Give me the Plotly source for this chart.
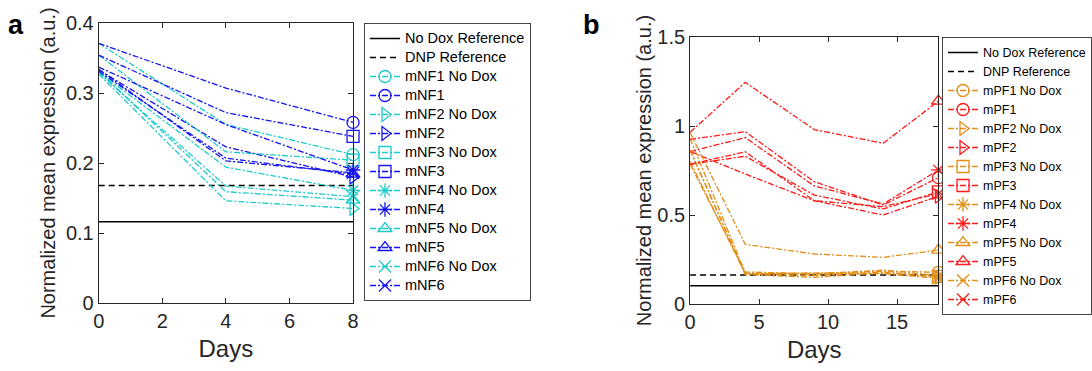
import plotly.graph_objects as go

# ---------------- Panel a data ----------------
days_a = [0, 4, 8]
mNF1_nd = [0.371, 0.255, 0.212]
mNF1 = [0.371, 0.307, 0.258]
mNF2_nd = [0.327, 0.146, 0.135]
mNF2 = [0.333, 0.223, 0.180]
mNF3_nd = [0.354, 0.216, 0.204]
mNF3 = [0.354, 0.272, 0.238]
mNF4_nd = [0.330, 0.194, 0.161]
mNF4 = [0.337, 0.255, 0.190]
mNF5_nd = [0.331, 0.159, 0.147]
mNF5 = [0.331, 0.207, 0.184]
mNF6_nd = [0.329, 0.167, 0.152]
mNF6 = [0.334, 0.203, 0.186]
nodox_ref_a = 0.116
dnp_ref_a = 0.168

# ---------------- Panel b data ----------------
days_b = [0, 4, 9, 14, 18]
mPF1_nd = [0.930, 0.175, 0.168, 0.185, 0.178]
mPF1 = [0.925, 0.968, 0.687, 0.556, 0.710]
mPF2_nd = [0.865, 0.165, 0.150, 0.175, 0.150]
mPF2 = [0.856, 0.730, 0.580, 0.500, 0.605]
mPF3_nd = [0.800, 0.170, 0.160, 0.180, 0.155]
mPF3 = [0.785, 0.830, 0.612, 0.534, 0.630]
mPF4_nd = [0.785, 0.180, 0.170, 0.190, 0.160]
mPF4 = [0.856, 0.935, 0.663, 0.562, 0.753]
mPF5_nd = [0.963, 0.335, 0.281, 0.262, 0.303]
mPF5 = [0.965, 1.245, 0.980, 0.903, 1.140]
mPF6_nd = [0.865, 0.168, 0.175, 0.170, 0.145]
mPF6 = [0.785, 0.855, 0.580, 0.547, 0.620]
nodox_ref_b = 0.103
dnp_ref_b = 0.163

x_ticks_a = [0, 2, 4, 6, 8]
y_ticks_a = [0, 0.1, 0.2, 0.3, 0.4]
x_ticks_b = [0, 5, 10, 15]
y_ticks_b = [0, 0.5, 1, 1.5]

CYAN = "#1DCBCB"
BLUE = "#1414F0"
ORANGE = "#E38E16"
RED = "#FF1A1A"
TXT = "#262626"
FONT = "Liberation Sans, Arial, Helvetica, sans-serif"
DASHDOT = "6px,2px,2px,2px"

symbols = ["circle-open", "triangle-right-open", "square-open",
           "asterisk-open", "triangle-up-open", "x-thin-open"]

series_a = [("mNF1 No Dox", mNF1_nd, CYAN), ("mNF1", mNF1, BLUE),
            ("mNF2 No Dox", mNF2_nd, CYAN), ("mNF2", mNF2, BLUE),
            ("mNF3 No Dox", mNF3_nd, CYAN), ("mNF3", mNF3, BLUE),
            ("mNF4 No Dox", mNF4_nd, CYAN), ("mNF4", mNF4, BLUE),
            ("mNF5 No Dox", mNF5_nd, CYAN), ("mNF5", mNF5, BLUE),
            ("mNF6 No Dox", mNF6_nd, CYAN), ("mNF6", mNF6, BLUE)]
series_b = [("mPF1 No Dox", mPF1_nd, ORANGE), ("mPF1", mPF1, RED),
            ("mPF2 No Dox", mPF2_nd, ORANGE), ("mPF2", mPF2, RED),
            ("mPF3 No Dox", mPF3_nd, ORANGE), ("mPF3", mPF3, RED),
            ("mPF4 No Dox", mPF4_nd, ORANGE), ("mPF4", mPF4, RED),
            ("mPF5 No Dox", mPF5_nd, ORANGE), ("mPF5", mPF5, RED),
            ("mPF6 No Dox", mPF6_nd, ORANGE), ("mPF6", mPF6, RED)]

fig = go.Figure()


def lab(text, size):
    return '<span style="font-size:%gpx">%s</span>' % (size, text)


def add_panel(days, series, nodox, dnp, xa, ya, leg, tsize):
    xr = [days[0], days[-1]]
    fig.add_trace(go.Scatter(x=xr, y=[nodox, nodox], mode="lines",
                             line=dict(color="black", width=1.5),
                             name=lab("No Dox Reference", tsize), xaxis=xa, yaxis=ya,
                             legend=leg))
    fig.add_trace(go.Scatter(x=xr, y=[dnp, dnp], mode="lines",
                             line=dict(color="black", width=1.5, dash="6px,4px"),
                             name=lab("DNP Reference", tsize), xaxis=xa, yaxis=ya,
                             legend=leg))
    for i, (name, vals, col) in enumerate(series):
        fig.add_trace(go.Scatter(x=days, y=vals, mode="lines",
                                 line=dict(color=col, width=1.3, dash=DASHDOT),
                                 showlegend=False, legendgroup=leg + name,
                                 xaxis=xa, yaxis=ya, legend=leg, hoverinfo="skip"))
    for i, (name, vals, col) in enumerate(series):
        fig.add_trace(go.Scatter(x=[days[-1]], y=[vals[-1]], mode="lines+markers",
                                 line=dict(color=col, width=1.3, dash=DASHDOT),
                                 marker=dict(symbol=symbols[i // 2], size=12,
                                             color=col,
                                             line=dict(color=col, width=1.3)),
                                 cliponaxis=False,
                                 name=lab(name, tsize), legendgroup=leg + name,
                                 xaxis=xa, yaxis=ya, legend=leg))


add_panel(days_a, series_a, nodox_ref_a, dnp_ref_a, "x", "y", "legend", 14.5)
add_panel(days_b, series_b, nodox_ref_b, dnp_ref_b, "x2", "y2", "legend2", 12.5)

W, H = 1092, 371


def px_x(p):
    return p / W


def px_y(p):
    return (H - p) / H


axis_common = dict(showgrid=False, zeroline=False, showline=True, mirror="ticks",
                   linecolor=TXT, linewidth=1, ticks="inside", ticklen=5,
                   tickcolor=TXT, tickwidth=1, automargin=False,
                   tickfont=dict(family=FONT, size=20, color=TXT))

fig.update_layout(
    template="none",
    width=W, height=H, margin=dict(l=0, r=0, t=0, b=0, pad=0),
    paper_bgcolor="white", plot_bgcolor="white",
    font=dict(family=FONT, color=TXT),
    showlegend=True,
    xaxis=dict(domain=[px_x(99), px_x(354)], range=[0, 8], tickvals=x_ticks_a,
               anchor="y",
               title=dict(text="Days", font=dict(size=24, family=FONT, color=TXT), standoff=9),
               **axis_common),
    yaxis=dict(domain=[px_y(303), px_y(23)], range=[0, 0.4], tickvals=y_ticks_a,
               anchor="x",
               title=dict(text="Normalized mean expression (a.u.)",
                          font=dict(size=20, family=FONT, color=TXT), standoff=4),
               **axis_common),
    xaxis2=dict(domain=[px_x(692), px_x(941)], range=[0, 18], tickvals=x_ticks_b,
                anchor="y2",
                title=dict(text="Days", font=dict(size=24, family=FONT, color=TXT), standoff=9),
                **axis_common),
    yaxis2=dict(domain=[px_y(304), px_y(37)], range=[0, 1.5], tickvals=y_ticks_b,
                anchor="x2",
                title=dict(text="Normalized mean expression (a.u.)",
                           font=dict(size=20, family=FONT, color=TXT), standoff=0),
                **axis_common),
    legend=dict(x=px_x(365), y=px_y(23), xanchor="left", yanchor="top",
                bgcolor="white", bordercolor="#444", borderwidth=1,
                font=dict(family=FONT, size=12.3, color="black"),
                tracegroupgap=0, itemwidth=30),
    legend2=dict(x=px_x(945), y=px_y(37), xanchor="left", yanchor="top",
                 bgcolor="white", bordercolor="#444", borderwidth=1,
                 font=dict(family=FONT, size=12.3, color="black"),
                 tracegroupgap=0, itemwidth=30),
    annotations=[
        dict(text="<b>a</b>", x=px_x(16), y=px_y(25), xref="paper", yref="paper",
             xanchor="center", yanchor="middle",
             showarrow=False, font=dict(family=FONT, size=27, color="black")),
        dict(text="<b>b</b>", x=px_x(593), y=px_y(25), xref="paper", yref="paper",
             xanchor="center", yanchor="middle",
             showarrow=False, font=dict(family=FONT, size=27, color="black")),
    ],
)

fig.write_html("out.html")
